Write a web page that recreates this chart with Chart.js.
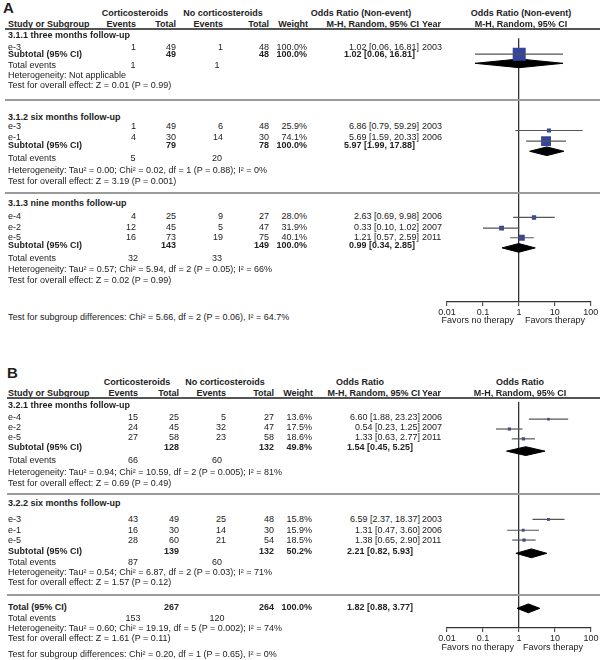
<!DOCTYPE html>
<html>
<head>
<meta charset="utf-8">
<script src="https://cdn.jsdelivr.net/npm/chart.js@4.4.1/dist/chart.umd.min.js"></script>
<style>
  html, body { margin: 0; padding: 0; background: #fff; }
  #page { position: relative; width: 600px; height: 660px; overflow: hidden;
          font-family: "Liberation Sans", Arial, sans-serif; font-size: 9px; color: #222; }
  .t { position: absolute; white-space: nowrap; line-height: 11px; height: 11px;
       transform: scaleY(0.92); transform-origin: 50% 50%; }
  .big { transform: none; }
  .b { font-weight: bold; }
  .rule { position: absolute; }
  canvas { position: absolute; }
</style>
</head>
<body>
<div id="page"></div>
<script>
// ── PANEL A DATA (Odds Ratio, non-event) ──────────────────────────────────
const aGroups  = ['3.1.1 three months follow-up', '3.1.2 six months follow-up', '3.1.3 nine months follow-up'];
const aStudy   = ['e-3', 'e-3', 'e-1', 'e-4', 'e-2', 'e-5'];
const aEvT     = [1, 1, 4, 4, 12, 16];
const aTotT    = [49, 49, 30, 25, 45, 73];
const aEvC     = [1, 6, 14, 9, 5, 19];
const aTotC    = [48, 48, 30, 27, 47, 75];
const aWeight  = [100.0, 25.9, 74.1, 28.0, 31.9, 40.1];
const aOR      = [1.02, 6.86, 5.69, 2.63, 0.33, 1.21];
const aLo      = [0.06, 0.79, 1.59, 0.69, 0.10, 0.57];
const aHi      = [16.81, 59.29, 20.33, 9.98, 1.02, 2.59];
const aYear    = [2003, 2003, 2006, 2006, 2007, 2011];

const aSubLabel = ['Subtotal (95% CI)', 'Subtotal (95% CI)', 'Subtotal (95% CI)'];
const aSubTotT  = [49, 79, 143];
const aSubTotC  = [48, 78, 149];
const aSubW     = [100.0, 100.0, 100.0];
const aSubOR    = [1.02, 5.97, 0.99];
const aSubLo    = [0.06, 1.99, 0.34];
const aSubHi    = [16.81, 17.88, 2.85];
const aSubEvT   = [1, 5, 32];
const aSubEvC   = [1, 20, 33];
const aHet = [
  'Heterogeneity: Not applicable',
  'Heterogeneity: Tau² = 0.00; Chi² = 0.02, df = 1 (P = 0.88); I² = 0%',
  'Heterogeneity: Tau² = 0.57; Chi² = 5.94, df = 2 (P = 0.05); I² = 66%'
];
const aTest = [
  'Test for overall effect: Z = 0.01 (P = 0.99)',
  'Test for overall effect: Z = 3.19 (P = 0.001)',
  'Test for overall effect: Z = 0.02 (P = 0.99)'
];
const aDiff = 'Test for subgroup differences: Chi² = 5.66, df = 2 (P = 0.06), I² = 64.7%';

// ── PANEL B DATA (Odds Ratio) ─────────────────────────────────────────────
const bGroups  = ['3.2.1 three months follow-up', '3.2.2 six months follow-up'];
const bStudy   = ['e-4', 'e-2', 'e-5', 'e-3', 'e-1', 'e-5'];
const bEvT     = [15, 24, 27, 43, 16, 28];
const bTotT    = [25, 45, 58, 49, 30, 60];
const bEvC     = [5, 32, 23, 25, 14, 21];
const bTotC    = [27, 47, 58, 48, 30, 54];
const bWeight  = [13.6, 17.5, 18.6, 15.8, 15.9, 18.5];
const bOR      = [6.60, 0.54, 1.33, 6.59, 1.31, 1.38];
const bLo      = [1.88, 0.23, 0.63, 2.37, 0.47, 0.65];
const bHi      = [23.23, 1.25, 2.77, 18.37, 3.60, 2.90];
const bYear    = [2006, 2007, 2011, 2003, 2006, 2011];

const bSubLabel = ['Subtotal (95% CI)', 'Subtotal (95% CI)', 'Total (95% CI)'];
const bSubTotT  = [128, 139, 267];
const bSubTotC  = [132, 132, 264];
const bSubW     = [49.8, 50.2, 100.0];
const bSubOR    = [1.54, 2.21, 1.82];
const bSubLo    = [0.45, 0.82, 0.88];
const bSubHi    = [5.25, 5.93, 3.77];
const bSubEvT   = [66, 87, 153];
const bSubEvC   = [60, 60, 120];
const bHet = [
  'Heterogeneity: Tau² = 0.94; Chi² = 10.59, df = 2 (P = 0.005); I² = 81%',
  'Heterogeneity: Tau² = 0.54; Chi² = 6.87, df = 2 (P = 0.03); I² = 71%',
  'Heterogeneity: Tau² = 0.60; Chi² = 19.19, df = 5 (P = 0.002); I² = 74%'
];
const bTest = [
  'Test for overall effect: Z = 0.69 (P = 0.49)',
  'Test for overall effect: Z = 1.57 (P = 0.12)',
  'Test for overall effect: Z = 1.61 (P = 0.11)'
];
const bDiff = 'Test for subgroup differences: Chi² = 0.20, df = 1 (P = 0.65), I² = 0%';

const axisTicks = [0.01, 0.1, 1, 10, 100];

// ── LAYOUT (page pixels) ──────────────────────────────────────────────────
const layA = {
  letterX: 3, letterY: 8, head1: 13, head2: 24, headLine: 29, axis: 302,
  groupY: [35, 117, 203],
  studyY: [47, 126, 137, 216, 227, 237],
  subY:   [54, 145, 245],
  evY:    [65, 158, 258],
  hetY:   [75, 170, 269],
  testY:  [85, 181, 280],
  sepY:   [100, 193],
  diffY: 317, favorsY: 320,
  c: { study: 8, ev1: 136, tot1: 176, ev2: 223, tot2: 269, wt: 307, or: 419, subOr: 415, yr: 422,
       evC1: 133, evC2: 217, arm1: 135, arm2: 223, orHead: 361, plot: 521, favL: 514, favR: 525,
       ruleX: 5, plotL: 447, plotR: 593 }
};
const layB = {
  letterX: 7, letterY: 373, head1: 382, head2: 393, headLine: 398, axis: 628,
  groupY: [405, 503],
  studyY: [417, 427, 437, 519, 530, 540],
  subY:   [447, 551, 607],
  evY:    [460, 562, 618],
  hetY:   [472, 572, 628],
  testY:  [483, 582, 638],
  sepY:   [494, 595],
  diffY: 654, favorsY: 647,
  c: { study: 8, ev1: 138, tot1: 179, ev2: 226, tot2: 274, wt: 312, or: 420, subOr: 413, yr: 422,
       evC1: 133, evC2: 217, arm1: 137, arm2: 225, orHead: 360, plot: 520, favL: 514, favR: 523,
       ruleX: 7, plotL: 447, plotR: 591 }
};

const page = document.getElementById('page');

function txt(x, y, s, align, bold, size) {
  const d = document.createElement('div');
  d.className = 't' + (bold ? ' b' : '') + (size ? ' big' : '');
  d.textContent = s;
  if (size) { d.style.fontSize = size + 'px'; d.style.lineHeight = '16px'; d.style.height = '16px'; d.style.top = (y - 8) + 'px'; }
  else d.style.top = (y - 5.5) + 'px';
  if (align === 'right') {
    d.style.left = (x - 300) + 'px'; d.style.width = '300px'; d.style.textAlign = 'right';
  } else if (align === 'center') {
    d.style.left = (x - 150) + 'px'; d.style.width = '300px'; d.style.textAlign = 'center';
  } else {
    d.style.left = x + 'px';
  }
  page.appendChild(d);
}

function rule(x, y, color, w) {
  const d = document.createElement('div');
  d.className = 'rule';
  d.style.left = x + 'px';
  d.style.width = (600 - x) + 'px';
  d.style.top = (y - w / 2) + 'px';
  d.style.height = w + 'px';
  d.style.background = color;
  page.appendChild(d);
}

const f2 = v => v.toFixed(2);
const ci = (o, l, h) => `${f2(o)} [${f2(l)}, ${f2(h)}]`;

// ── TABLE TEXT ────────────────────────────────────────────────────────────
function drawTable(P, L) {
  const c = L.c;
  txt(L.letterX, L.letterY, P.letter, 'left', true, 15);

  txt(c.arm1, L.head1, 'Corticosteroids', 'center', true);
  txt(c.arm2, L.head1, 'No corticosteroids', 'center', true);
  txt(c.orHead, L.head1, P.orTitle, 'center', true);
  txt(c.plot, L.head1, P.orTitle, 'center', true);

  txt(c.study, L.head2, 'Study or Subgroup', 'left', true);
  txt(c.ev1, L.head2, 'Events', 'right', true);
  txt(c.tot1, L.head2, 'Total', 'right', true);
  txt(c.ev2, L.head2, 'Events', 'right', true);
  txt(c.tot2, L.head2, 'Total', 'right', true);
  txt(c.wt + 1, L.head2, 'Weight', 'right', true);
  txt(c.or, L.head2, 'M-H, Random, 95% CI', 'right', true);
  txt(c.yr, L.head2, 'Year', 'left', true);
  txt(c.plot, L.head2, 'M-H, Random, 95% CI', 'center', true);
  rule(c.ruleX, L.headLine, '#555', 1.5);

  P.groups.forEach((g, i) => txt(c.study, L.groupY[i], g, 'left', true));

  P.study.forEach((name, i) => {
    const y = L.studyY[i];
    txt(c.study, y, name);
    txt(c.ev1, y, String(P.evT[i]), 'right');
    txt(c.tot1, y, String(P.totT[i]), 'right');
    txt(c.ev2, y, String(P.evC[i]), 'right');
    txt(c.tot2, y, String(P.totC[i]), 'right');
    txt(c.wt, y, P.weight[i].toFixed(1) + '%', 'right');
    txt(c.or, y, ci(P.or[i], P.lo[i], P.hi[i]), 'right');
    txt(c.yr, y, String(P.year[i]), 'left');
  });

  P.subLabel.forEach((lab, i) => {
    const y = L.subY[i];
    txt(c.study, y, lab, 'left', true);
    txt(c.tot1, y, String(P.subTotT[i]), 'right', true);
    txt(c.tot2, y, String(P.subTotC[i]), 'right', true);
    txt(c.wt, y, P.subW[i].toFixed(1) + '%', 'right', true);
    txt(c.subOr, y, ci(P.subOR[i], P.subLo[i], P.subHi[i]), 'right', true);
    txt(c.study, L.evY[i], 'Total events');
    txt(c.evC1, L.evY[i], String(P.subEvT[i]), 'center');
    txt(c.evC2, L.evY[i], String(P.subEvC[i]), 'center');
    txt(c.study, L.hetY[i], P.het[i]);
    txt(c.study, L.testY[i], P.test[i]);
  });

  L.sepY.forEach(y => rule(c.ruleX, y, '#9a9a9a', 2));
  txt(c.study, L.diffY, P.diff);
  txt(c.favL, L.favorsY, 'Favors no therapy', 'right');
  txt(c.favR, L.favorsY, 'Favors therapy', 'left');
}

// ── FOREST PLOT (Chart.js) ────────────────────────────────────────────────
function drawForest(P, L) {
  const c = L.c;
  const cv = document.createElement('canvas');
  const left = 430;
  cv.width = 600 - left;
  cv.height = L.axis - L.headLine + 30;
  cv.style.left = left + 'px';
  cv.style.top = L.headLine + 'px';
  page.appendChild(cv);

  const datasets = [];
  // confidence interval whiskers
  P.or.forEach((v, i) => {
    const y = L.studyY[i] - 1.5;
    datasets.push({
      data: [{ x: P.lo[i], y }, { x: P.hi[i], y }],
      borderColor: '#555', borderWidth: 1.2, pointRadius: 0, fill: false
    });
  });
  // weighted squares
  datasets.push({
    data: P.or.map((v, i) => ({ x: v, y: L.studyY[i] - 1.5 })),
    showLine: false,
    pointStyle: 'rect',
    pointRadius: P.weight.map(w => (1 + 12 * w / 100) / Math.SQRT2),
    pointBackgroundColor: '#35449e',
    pointBorderWidth: 0,
    borderWidth: 0
  });
  // pooled diamonds: upper edge + lower edge filled between
  P.subOR.forEach((v, i) => {
    const y = L.subY[i] + 1;
    datasets.push({
      data: [{ x: P.subLo[i], y }, { x: v, y: y - 4.5 }, { x: P.subHi[i], y }],
      borderColor: '#000', borderWidth: 1, pointRadius: 0, fill: false
    });
    datasets.push({
      data: [{ x: P.subLo[i], y }, { x: v, y: y + 4.5 }, { x: P.subHi[i], y }],
      borderColor: '#000', borderWidth: 1, pointRadius: 0, fill: '-1', backgroundColor: '#000'
    });
  });

  new Chart(cv, {
    type: 'line',
    data: { datasets },
    options: {
      responsive: false,
      animation: false,
      events: [],
      layout: { padding: { left: c.plotL - left, right: 600 - c.plotR, top: 0, bottom: 0 } },
      plugins: { legend: { display: false }, tooltip: { enabled: false } },
      scales: {
        x: {
          type: 'logarithmic', min: 0.01, max: 100, position: 'bottom',
          afterBuildTicks: s => { s.ticks = axisTicks.map(v => ({ value: v })); },
          afterFit: s => { s.height = 30; },
          ticks: {
            autoSkip: false, maxRotation: 0, padding: 1, color: '#222',
            font: { family: 'Liberation Sans', size: 9 },
            callback: v => String(v)
          },
          grid: {
            color: ctx => (ctx.tick && ctx.tick.value === 1) ? '#333' : 'rgba(0,0,0,0)',
            lineWidth: 1.3, tickLength: 4, tickColor: '#333', tickWidth: 1
          },
          border: { display: true, color: '#333', width: 1.3 }
        },
        y: { type: 'linear', display: false, reverse: true, min: L.headLine, max: L.axis }
      }
    }
  });
}

const panelA = {
  letter: 'A', orTitle: 'Odds Ratio (Non-event)', groups: aGroups,
  study: aStudy, evT: aEvT, totT: aTotT, evC: aEvC, totC: aTotC, weight: aWeight,
  or: aOR, lo: aLo, hi: aHi, year: aYear,
  subLabel: aSubLabel, subTotT: aSubTotT, subTotC: aSubTotC, subW: aSubW,
  subOR: aSubOR, subLo: aSubLo, subHi: aSubHi, subEvT: aSubEvT, subEvC: aSubEvC,
  het: aHet, test: aTest, diff: aDiff
};
const panelB = {
  letter: 'B', orTitle: 'Odds Ratio', groups: bGroups,
  study: bStudy, evT: bEvT, totT: bTotT, evC: bEvC, totC: bTotC, weight: bWeight,
  or: bOR, lo: bLo, hi: bHi, year: bYear,
  subLabel: bSubLabel, subTotT: bSubTotT, subTotC: bSubTotC, subW: bSubW,
  subOR: bSubOR, subLo: bSubLo, subHi: bSubHi, subEvT: bSubEvT, subEvC: bSubEvC,
  het: bHet, test: bTest, diff: bDiff
};

drawForest(panelA, layA);
drawForest(panelB, layB);
drawTable(panelA, layA);
drawTable(panelB, layB);
</script>
</body>
</html>
